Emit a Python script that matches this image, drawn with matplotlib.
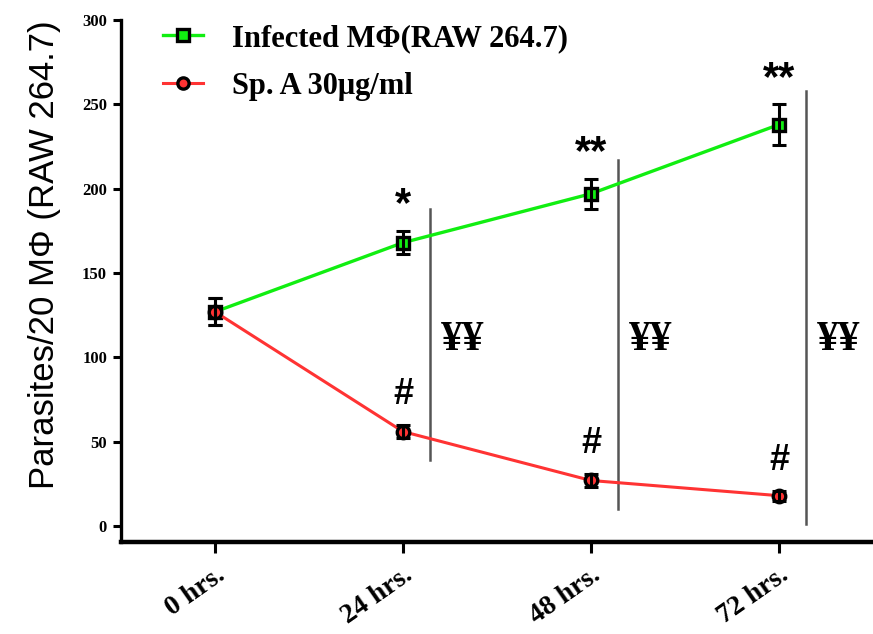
import numpy as np
import matplotlib.pyplot as plt
from matplotlib.transforms import ScaledTranslation

# data
time_labels = ['0 hrs.', '24 hrs.', '48 hrs.', '72 hrs.']
infected = [127, 168, 197, 238]
infected_err = [8, 7, 9, 12]
treated = [127, 56, 27, 18]
treated_err = [8, 4, 4, 3]
star_marks = ['', '*', '**', '**']
hash_marks = ['', '#', '#', '#']
yen_marks = ['', '¥¥', '¥¥', '¥¥']

serif = ['Liberation Serif', 'DejaVu Serif']
sans = ['Liberation Sans', 'DejaVu Sans']

fig = plt.figure(figsize=(8.73, 6.34), dpi=100)
ax = fig.add_axes([0.1386, 0.145, 0.8614, 0.8235])

x = np.arange(len(time_labels))

ax.plot(x, infected, color='#11ee11', lw=2.4, marker='s', ms=9,
        mfc='#11ee11', mec='black', mew=2.4,
        label='Infected M\u03a6(RAW 264.7)', zorder=3)
ax.plot(x, treated, color='#ff3333', lw=2.2, marker='o', ms=9,
        mfc='#ff3333', mec='black', mew=2.4,
        label='Sp. A 30\u03bcg/ml', zorder=3)
ax.errorbar(x, infected, yerr=infected_err, fmt='none', ecolor='black',
            elinewidth=2.2, capsize=5, capthick=2.2, zorder=4)
ax.errorbar(x, treated, yerr=treated_err, fmt='none', ecolor='black',
            elinewidth=2.2, capsize=5, capthick=2.2, zorder=4)

# significance marks
for i in range(1, len(x)):
    ax.text(x[i], infected[i] + infected_err[i] + 15, star_marks[i],
            ha='center', va='center', fontsize=30, fontweight='bold',
            family=sans)
    ax.text(x[i], treated[i] + treated_err[i] + 18, hash_marks[i],
            ha='center', va='center', fontsize=26, fontweight='bold',
            family=sans)
    ax.plot([x[i] + 0.145, x[i] + 0.145],
            [treated[i] - 17, infected[i] + 20],
            color='#555555', lw=1.8, zorder=2)
    ax.text(x[i] + 0.2, 110, yen_marks[i],
            ha='left', va='center', fontsize=31, fontweight='bold',
            family=serif)

ax.set_xlim(-0.5, 3.5)
ax.set_ylim(-9.5, 300)
ax.set_yticks([0, 50, 100, 150, 200, 250, 300])
ax.set_xticks(x)
ax.set_xticklabels(time_labels, rotation=35, ha='right',
                   rotation_mode='anchor', fontsize=20, fontweight='bold',
                   family=serif)
shift = ScaledTranslation(-7 / 100, 0, fig.dpi_scale_trans)
for lab in ax.get_xticklabels():
    lab.set_transform(lab.get_transform() + shift)
for lab in ax.get_yticklabels():
    lab.set_fontsize(12)
    lab.set_fontweight('bold')
    lab.set_family(serif)

ax.spines['top'].set_visible(False)
ax.spines['right'].set_visible(False)
ax.spines['left'].set_linewidth(2.4)
ax.spines['bottom'].set_linewidth(3.2)
ax.tick_params(axis='both', direction='out', width=2.2, color='black')
ax.tick_params(axis='x', length=8, pad=7)
ax.tick_params(axis='y', length=6, pad=4)

ax.set_ylabel('Parasites/20 M\u03a6 (RAW 264.7)', fontsize=25, family=sans)
ax.yaxis.set_label_coords(-0.08, 0.55)

ax.legend(loc='upper left', bbox_to_anchor=(163 / 873, 1 - 24 / 634),
          bbox_transform=fig.transFigure, frameon=False, borderpad=0,
          borderaxespad=0, handlelength=1.3, handletextpad=0.95,
          labelspacing=0.62, markerscale=0.9,
          prop={'family': serif, 'weight': 'bold', 'size': 22})

fig.savefig('out.png', dpi=100)
